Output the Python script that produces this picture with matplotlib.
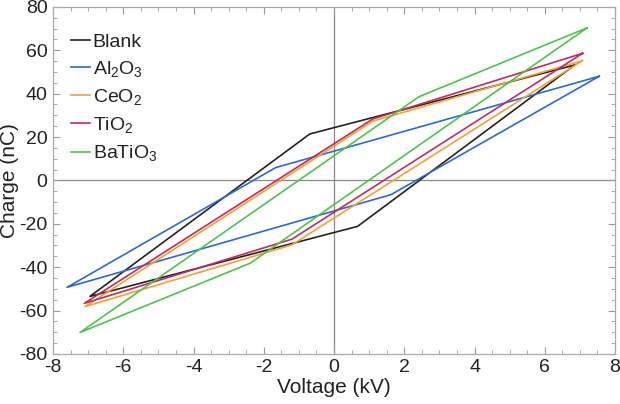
import matplotlib
matplotlib.use("Agg")
import matplotlib.pyplot as plt
from matplotlib.ticker import MultipleLocator

plt.rcParams['font.family'] = ['Liberation Sans', 'DejaVu Sans']
plt.rcParams['mathtext.fontset'] = 'custom'
plt.rcParams['mathtext.rm'] = 'Liberation Sans'
plt.rcParams['mathtext.it'] = 'Liberation Sans'
plt.rcParams['axes.unicode_minus'] = False

# loops: right tip -> lower knee -> left tip -> upper knee -> right tip
labels = ["Blank", "Al$_2$O$_3$", "CeO$_2$", "TiO$_2$", "BaTiO$_3$"]
colors = ["#222222", "#2f68cf", "#f0a232", "#c42a5c", "#4fc24f"]

v_blank = [6.85, 0.67, -6.95, -0.69, 6.85]
q_blank = [53.2, -21.2, -53.5, 21.4, 53.2]

v_al2o3 = [7.55, 1.62, -7.6, -1.66, 7.55]
q_al2o3 = [48.0, -6.6, -49.3, 5.9, 48.0]

v_ceo2 = [7.07, -1.2, -7.09, 1.1, 7.07]
q_ceo2 = [55.2, -29.7, -58.2, 27.3, 55.2]

v_tio2 = [7.08, -1.2, -7.11, 1.1, 7.08]
q_tio2 = [58.6, -27.1, -56.7, 28.3, 58.6]

v_batio3 = [7.2, -2.39, -7.23, 2.42, 7.2]
q_batio3 = [70.3, -38.2, -70.1, 38.6, 70.3]

volts = [v_blank, v_al2o3, v_ceo2, v_tio2, v_batio3]
charges = [q_blank, q_al2o3, q_ceo2, q_tio2, q_batio3]

fig = plt.figure(figsize=(6.2, 4.04), dpi=100)
ax = fig.add_axes([0.0855, 0.124, 0.9065, 0.859])

ax.axhline(0, color="#888888", lw=0.9, zorder=1)
ax.axvline(0, color="#888888", lw=0.9, zorder=1)

for v, q, lab, c in zip(volts, charges, labels, colors):
    ax.plot(v, q, color=c, lw=1.2, label=lab, zorder=2)

ax.set_xlim(-8, 8)
ax.set_ylim(-80, 80)
ax.xaxis.set_major_locator(MultipleLocator(2))
ax.xaxis.set_minor_locator(MultipleLocator(0.5))
ax.yaxis.set_major_locator(MultipleLocator(20))
ax.yaxis.set_minor_locator(MultipleLocator(5))
ax.tick_params(which="both", direction="in", top=True, right=True,
               color="#999999", labelsize=14, labelcolor="#222222")
ax.tick_params(which="major", length=5, width=0.8, pad=4)
ax.tick_params(which="minor", length=3, width=0.6)
for s in ax.spines.values():
    s.set_color("#aaaaaa")
    s.set_linewidth(0.9)

ax.set_xlabel("Voltage (kV)", fontsize=15, color="#222222", labelpad=1)
ax.set_ylabel("Charge (nC)", fontsize=15, color="#222222", labelpad=0)

leg = ax.legend(loc="upper left", frameon=False, fontsize=14,
                handlelength=1.0, handletextpad=0.15, labelspacing=0.42,
                bbox_to_anchor=(0.0, 0.975))
for t in leg.get_texts():
    t.set_color("#222222")

fig.savefig("out.png", dpi=100)
